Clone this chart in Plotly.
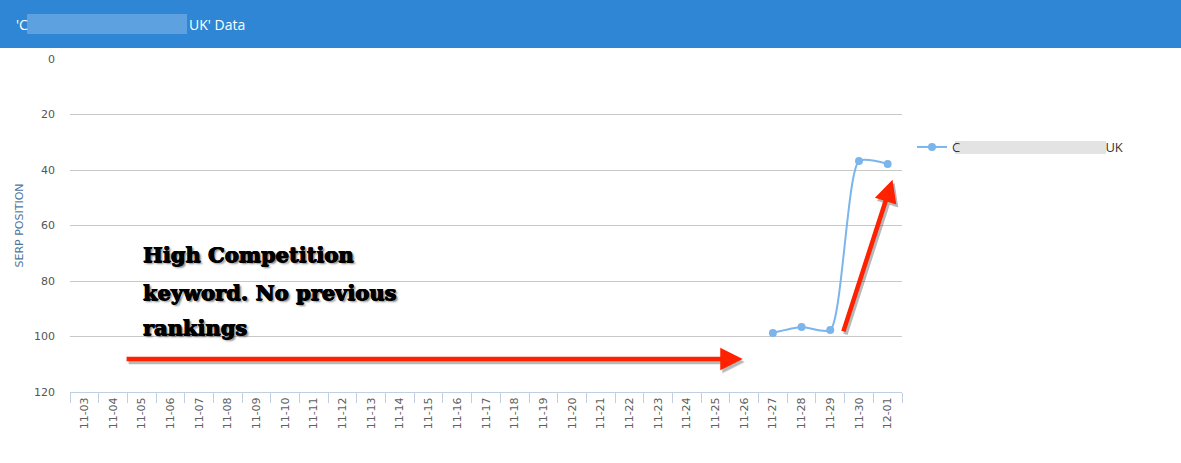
import plotly.graph_objects as go

dates = ["11-03", "11-04", "11-05", "11-06", "11-07", "11-08", "11-09", "11-10",
         "11-11", "11-12", "11-13", "11-14", "11-15", "11-16", "11-17", "11-18",
         "11-19", "11-20", "11-21", "11-22", "11-23", "11-24", "11-25", "11-26",
         "11-27", "11-28", "11-29", "11-30", "12-01"]
positions = [None] * 24 + [98.7, 96.6, 97.7, 36.8, 37.8]
y_ticks = [0, 20, 40, 60, 80, 100, 120]
series_name = "C" + "\u00a0" * 43 + "UK"

W, H = 1181, 463
L, R, T, B = 70, 279, 59, 71
PW, PH = W - L - R, H - T - B


def px(x):
    return (x - L) / PW


def py(y):
    return 1 - (y - T) / PH


fig = go.Figure()
fig.add_trace(go.Scatter(
    x=dates, y=positions, name=series_name, mode="lines+markers",
    line=dict(color="#7CB5EC", width=2, shape="spline", smoothing=0.6),
    marker=dict(color="#7CB5EC", size=8),
    connectgaps=False,
))

shapes = [
    # header bar
    dict(type="rect", xref="paper", yref="paper", x0=px(0), x1=px(W), y0=py(48), y1=py(0),
         fillcolor="#2E86D4", line=dict(width=0), layer="above"),
    # blurred part of header title
    dict(type="rect", xref="paper", yref="paper", x0=px(27), x1=px(187), y0=py(34), y1=py(14),
         fillcolor="rgba(150,195,240,0.45)", line=dict(width=0), layer="above"),
    # blurred part of legend
    dict(type="rect", xref="paper", yref="paper", x0=px(955), x1=px(1106), y0=py(154), y1=py(141),
         fillcolor="rgba(220,220,220,0.8)", line=dict(width=0), layer="above"),
]

annotations = [
    dict(text="'C", xref="paper", yref="paper", x=px(14), y=py(24), xanchor="left", yanchor="middle",
         showarrow=False, font=dict(family="Open Sans", size=14, color="white")),
    dict(text="UK' Data", xref="paper", yref="paper", x=px(187), y=py(24), xanchor="left", yanchor="middle",
         showarrow=False, font=dict(family="Open Sans", size=14, color="white")),
]

note_font = dict(family="DejaVu Serif", size=21, color="black", weight="bold",
                 shadow="0.6px 0 0 #000, -0.6px 0 0 #000, 0 0.6px 0 #000, 2px 2px 2px rgba(0,0,0,0.5)")
for txt, yv in [("High Competition", 70.6), ("keyword. No previous", 84.0), ("rankings", 96.9)]:
    annotations.append(dict(text=txt, xref="x", yref="y", x=1.97, y=yv, xanchor="left",
                            yanchor="middle", showarrow=False, font=note_font))

arrows = [
    dict(x=22.95, y=108.1, ax=1.42, ay=108.1),
    dict(x=28.17, y=43.5, ax=26.44, ay=98.7),
]
for a in arrows:
    for shadow in (True, False):
        annotations.append(dict(
            x=a["x"], y=a["y"], ax=a["ax"], ay=a["ay"], xref="x", yref="y", axref="x", ayref="y",
            text="", showarrow=True, arrowhead=2, arrowsize=1.0, arrowwidth=4.5, standoff=0,
            arrowcolor="rgba(0,0,0,0.28)" if shadow else "#FF2200",
            xshift=2 if shadow else 0, yshift=-3 if shadow else 0,
        ))

fig.update_layout(
    width=W, height=H,
    margin=dict(l=L, r=R, t=T, b=B),
    paper_bgcolor="white", plot_bgcolor="white",
    shapes=shapes, annotations=annotations,
    showlegend=True,
    legend=dict(x=px(912), y=py(147), xanchor="left", yanchor="middle",
                font=dict(family="Open Sans", size=13, color="#333333"),
                bgcolor="rgba(0,0,0,0)"),
    font=dict(family="DejaVu Sans"),
)
fig.update_xaxes(
    type="category", categoryorder="array", categoryarray=dates,
    range=[-0.5, len(dates) - 0.5],
    showgrid=False, showline=True, linecolor="#C0D0E0", linewidth=1,
    ticks="outside", tickson="boundaries", ticklen=10, tickcolor="#C0D0E0",
    tickangle=-90, tickfont=dict(family="DejaVu Sans", size=11, color="#606060"),
    zeroline=False,
)
fig.update_yaxes(
    range=[120, 0], tickvals=y_ticks, showgrid=True, gridcolor="#C8C8C8", gridwidth=1,
    zeroline=False, showline=False, ticks="",
    tickfont=dict(family="DejaVu Sans", size=11, color="#555555"),
    ticklabelstandoff=14,
    title=dict(text="SERP POSITION", font=dict(family="DejaVu Sans", size=11, color="#4D759E"),
               standoff=8),
)

fig.write_html("out.html", config={"displayModeBar": False},
               post_script="document.body.style.margin='0';document.body.style.overflow='hidden';")
